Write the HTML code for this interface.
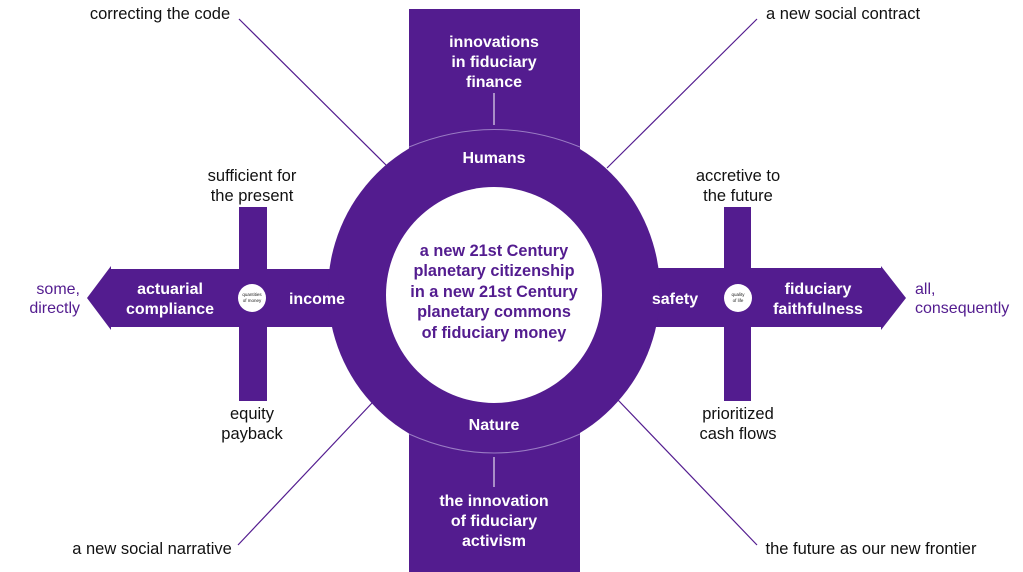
<!DOCTYPE html>
<html><head><meta charset="utf-8"><style>
html,body{margin:0;padding:0;background:#fff;}
svg{display:block;}
text{font-family:"Liberation Sans",Arial,sans-serif;}
.b{font-weight:bold;fill:#fff;font-size:16px;text-anchor:middle;}
.k{fill:#111;font-size:16.5px;text-anchor:middle;}
.p{fill:#531c8f;font-size:16px;}
.c{font-weight:bold;fill:#531c8f;font-size:16.3px;text-anchor:middle;}
</style></head><body>
<svg width="1023" height="572" viewBox="0 0 1023 572" xmlns="http://www.w3.org/2000/svg">
<g stroke="#531c8f" stroke-width="1.2">
<line x1="239" y1="19" x2="386" y2="165"/>
<line x1="757" y1="19" x2="607" y2="168"/>
<line x1="238" y1="545" x2="372" y2="403"/>
<line x1="757" y1="545" x2="618" y2="400"/>
</g>
<g fill="#531c8f">
<rect x="409" y="9" width="171" height="563"/>
<polygon points="87,298 111,266 111,269 340,269 340,327 111,327 111,330"/>
<polygon points="906,298 881,266 881,268 650,268 650,327 881,327 881,330"/>
<rect x="239" y="207" width="28" height="194"/>
<rect x="724" y="207" width="27" height="194"/>
<circle cx="494" cy="291" r="166"/>
</g>
<circle cx="494" cy="295" r="108" fill="#fff"/>
<line x1="494" y1="93" x2="494" y2="125" stroke="#fff" stroke-width="1"/>
<line x1="494" y1="457" x2="494" y2="487" stroke="#fff" stroke-width="1"/>
<path d="M409,147 Q494,112 580,147" fill="none" stroke="#9a7cc4" stroke-width="1"/>
<path d="M409,434 Q494,472 580,434" fill="none" stroke="#9a7cc4" stroke-width="1"/>
<circle cx="252" cy="298" r="14" fill="#fff"/>
<circle cx="738" cy="298" r="14" fill="#fff"/>
<text x="252" y="296" font-size="4.5" text-anchor="middle" fill="#222">quantities</text>
<text x="252" y="302" font-size="4.5" text-anchor="middle" fill="#222">of money</text>
<text x="738" y="296" font-size="4.5" text-anchor="middle" fill="#222">quality</text>
<text x="738" y="302" font-size="4.5" text-anchor="middle" fill="#222">of life</text>

<text class="b" x="494" y="47">innovations</text>
<text class="b" x="494" y="67">in fiduciary</text>
<text class="b" x="494" y="87">finance</text>
<text class="b" x="494" y="163">Humans</text>
<text class="b" x="494" y="430">Nature</text>
<text class="b" x="494" y="506">the innovation</text>
<text class="b" x="494" y="526">of fiduciary</text>
<text class="b" x="494" y="546">activism</text>

<text class="c" x="494" y="256">a new 21st Century</text>
<text class="c" x="494" y="276">planetary citizenship</text>
<text class="c" x="494" y="297">in a new 21st Century</text>
<text class="c" x="494" y="317">planetary commons</text>
<text class="c" x="494" y="338">of fiduciary money</text>

<text class="b" x="170" y="294">actuarial</text>
<text class="b" x="170" y="314">compliance</text>
<text class="b" x="317" y="304">income</text>
<text class="b" x="675" y="304">safety</text>
<text class="b" x="818" y="294">fiduciary</text>
<text class="b" x="818" y="314">faithfulness</text>

<text class="k" x="160" y="19">correcting the code</text>
<text class="k" x="843" y="19">a new social contract</text>
<text class="k" x="152" y="554">a new social narrative</text>
<text class="k" x="871" y="554">the future as our new frontier</text>
<text class="k" x="252" y="181">sufficient for</text>
<text class="k" x="252" y="201">the present</text>
<text class="k" x="252" y="419">equity</text>
<text class="k" x="252" y="439">payback</text>
<text class="k" x="738" y="181">accretive to</text>
<text class="k" x="738" y="201">the future</text>
<text class="k" x="738" y="419">prioritized</text>
<text class="k" x="738" y="439">cash flows</text>
<text class="p" x="80" y="294" text-anchor="end">some,</text>
<text class="p" x="80" y="313" text-anchor="end">directly</text>
<text class="p" x="915" y="294">all,</text>
<text class="p" x="915" y="313">consequently</text>
</svg>
</body></html>
